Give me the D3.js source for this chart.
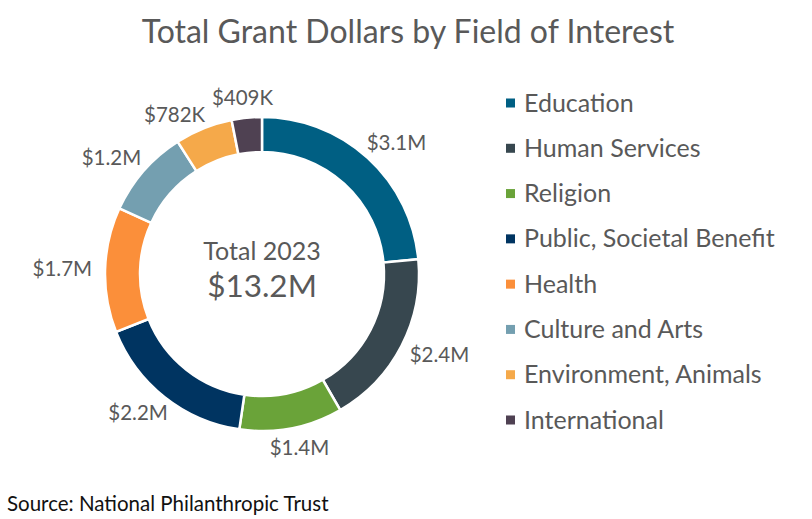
<!DOCTYPE html>
<html><head><meta charset="utf-8">
<script src="https://cdn.jsdelivr.net/npm/d3@7"></script>
<style>
html,body{margin:0;padding:0;background:#fff;}
text{font-family:Lato,"Open Sans",sans-serif;}
</style></head>
<body><svg id="c" width="812" height="519"></svg>
<script>
const categories = ["Education","Human Services","Religion","Public, Societal Benefit","Health","Culture and Arts","Environment, Animals","International"];
const values = [3.1, 2.4, 1.4, 2.2, 1.7, 1.2, 0.782, 0.409];
const valueLabels = ["$3.1M","$2.4M","$1.4M","$2.2M","$1.7M","$1.2M","$782K","$409K"];
const colors = ["#005f83","#37474f","#6aa339","#003461","#fb8f3a","#749fb0","#f5a94a","#4f4152"];
const title = "Total Grant Dollars by Field of Interest";
const centerLine1 = "Total 2023";
const centerLine2 = "$13.2M";
const source = "Source: National Philanthropic Trust";

const svg = d3.select("#c");
const cx = 262, cy = 274, rIn = 122, rOut = 157;
const color = d3.scaleOrdinal().domain(categories).range(colors);

svg.append("text").attr("x", 408).attr("y", 43).attr("text-anchor","middle")
  .attr("font-size", 32).attr("fill","#595959").text(title);

const g = svg.append("g").attr("transform", `translate(${cx},${cy})`);
const data = categories.map((c,i)=>({cat:c, value:values[i], label:valueLabels[i]}));
const pie = d3.pie().sort(null).value(d=>d.value);
const arc = d3.arc().innerRadius(rIn).outerRadius(rOut);
const arcs = pie(data);

g.selectAll("path").data(arcs).join("path")
  .attr("d", arc).attr("fill", d=>color(d.data.cat))
  .attr("stroke","#fff").attr("stroke-width",2.5);

const labR = 166, halfH = 10, gap = 6;
const labels = g.selectAll("text.lab").data(arcs).join("text").attr("class","lab")
  .attr("font-size",20.5).attr("fill","#595959").attr("text-anchor","middle")
  .text(d=>d.data.label);
const info = [];
labels.each(function(d){ info.push({el:this, w:this.getComputedTextLength(), a:(d.startAngle+d.endAngle)/2}); });
function place(o){
  const s = Math.sin(o.a), c = Math.cos(o.a);
  o.x = labR*s + s*(o.w/2+4);
  o.y = -labR*c - c*11;
}
function overlap(p,q){
  return Math.abs(p.x-q.x) < (p.w+q.w)/2 + gap && Math.abs(p.y-q.y) < 2*halfH;
}
info.forEach(place);
for (let i = info.length-2; i >= 0; i--) {
  let k = 0;
  while (overlap(info[i], info[i+1]) && k < 200) { info[i].a -= 0.005; place(info[i]); k++; }
}
info.forEach(o=>d3.select(o.el).attr("x",o.x).attr("y",o.y+7));

g.append("text").attr("x",0).attr("y",-14).attr("text-anchor","middle")
  .attr("font-size",25).attr("fill","#595959").text(centerLine1);
g.append("text").attr("x",0).attr("y",23).attr("text-anchor","middle")
  .attr("font-size",31.5).attr("fill","#595959").text(centerLine2);

const ly = d3.scalePoint().domain(categories).range([103, 420]);
const leg = svg.append("g");
const rows = leg.selectAll("g").data(categories).join("g")
  .attr("transform", d=>`translate(506,${ly(d)})`);
rows.append("rect").attr("x",0).attr("y",-4.5).attr("width",9).attr("height",9)
  .attr("fill", d=>color(d));
rows.append("text").attr("x",18).attr("y",8.5).attr("font-size",25).attr("fill","#595959").text(d=>d);

svg.append("text").attr("x",7).attr("y",511).attr("font-size",20.5).attr("fill","#111").text(source);
</script></body></html>
